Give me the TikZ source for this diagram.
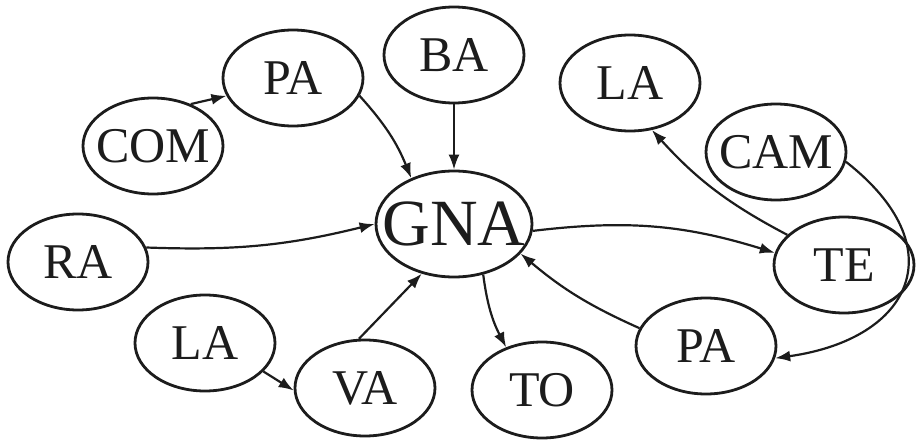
\documentclass[tikz,border=0pt]{standalone}
\usepackage{fontspec}
\setmainfont{Liberation Serif}
\usetikzlibrary{arrows.meta, shapes.geometric}
\definecolor{cInk}{HTML}{1C1C1C}

\begin{document}
\begin{tikzpicture}[x=1pt, y=-1pt,
    ring/.style={ellipse, draw=cInk, line width=2.8pt, inner sep=0pt,
      minimum width=140pt, minimum height=96pt},
    bubble/.style={ring,
      label={[font=\fontsize{50}{60}\selectfont, text=cInk]center:#1}},
    hub/.style={ring, minimum width=156pt, minimum height=106pt,
      label={[font=\fontsize{66}{78}\selectfont, text=cInk]center:#1}},
    link/.style={-{Latex[length=15pt, width=11pt]}, line width=2.2pt, draw=cInk}]
  \useasboundingbox (0,0) rectangle (916,441);
  % centre node
  \node[hub=GNA] (gna) at (454,224) {};
  % upper left
  \node[bubble=PA]  (pa1) at (293,78)  {};
  \node[bubble=COM] (com) at (153,146) {};
  \node[bubble=BA]  (ba)  at (454,55)  {};
  % upper right
  \node[bubble=LA]  (la2) at (630,83)  {};
  \node[bubble=CAM] (cam) at (776,152) {};
  \node[bubble=TE]  (te)  at (844,265) {};
  % lower row
  \node[bubble=RA]  (ra)  at (78,262)  {};
  \node[bubble=LA]  (la1) at (205,343) {};
  \node[bubble=VA]  (va)  at (365,388) {};
  \node[bubble=TO]  (to)  at (542,390) {};
  \node[bubble=PA]  (pa2) at (706,346) {};
  % arrows into GNA
  \draw[link] (com.48) -- (pa1.195);
  \draw[link] (pa1.-15) to[bend left=10] (gna.133);
  \draw[link] (ba) -- (gna);
  \draw[link] (ra.12) to[bend right=8] (gna.180);
  \draw[link] (la1.-26) -- (va.182);
  \draw[link] (va.97) -- (gna.-123);
  \draw[link] (pa2.165) to[bend left=8] (gna.-24);
  % arrows out of GNA
  \draw[link] (gna.-5) to[bend left=12] (te.170);
  \draw[link] (gna.-60) to[bend right=10] (to.130);
  \draw[link] (te.152) to[bend left=10] (la2.-65);
  \draw[link] (cam.-8) to[out=-38, in=8, looseness=1.7] (pa2.-10);
\end{tikzpicture}
\end{document}
